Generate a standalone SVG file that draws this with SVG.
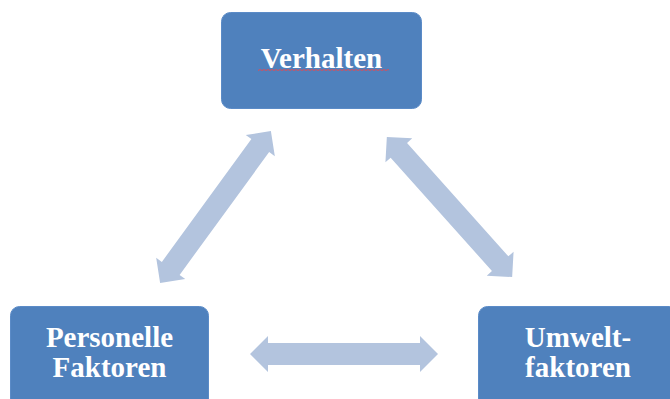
<svg xmlns="http://www.w3.org/2000/svg" width="670" height="399" viewBox="0 0 670 399">
<style>
.box{fill:#4f81bd;stroke:#5b8bc7;stroke-width:1}
.lbl{font-family:"Liberation Serif","Times New Roman",serif;font-weight:bold;font-size:29px;fill:#ffffff;text-anchor:middle}
.arr{fill:#b3c4de}
</style>
<defs>
<path id="dbl" d="M-94,0 L-76,-18 L-76,-11 L76,-11 L76,-18 L94,0 L76,18 L76,11 L-76,11 L-76,18 Z"/>
</defs>
<rect width="670" height="399" fill="#ffffff"/>
<g id="connectors" class="arr">
<use href="#dbl" transform="translate(215.5,207) rotate(-53.9)"/>
<use href="#dbl" transform="translate(449.5,207) rotate(48.2)"/>
<use href="#dbl" transform="translate(344,354)"/>
</g>
<g id="verhalten">
<rect class="box" x="221.5" y="12.5" width="200" height="96" rx="9"/>
<text class="lbl" x="321.5" y="68">Verhalten</text>
<path d="M258,70.5 l2,-1 l2,1 l2,-1 l2,1 l2,-1 l2,1 l2,-1 l2,1 l2,-1 l2,1 l2,-1 l2,1 l2,-1 l2,1 l2,-1 l2,1 l2,-1 l2,1 l2,-1 l2,1 l2,-1 l2,1 l2,-1 l2,1 l2,-1 l2,1 l2,-1 l2,1 l2,-1 l2,1 l2,-1 l2,1 l2,-1 l2,1 l2,-1 l2,1 l2,-1 l2,1 l2,-1 l2,1 l2,-1 l2,1 l2,-1 l2,1 l2,-1 l2,1 l2,-1 l2,1 l2,-1 l2,1 l2,-1 l2,1 l2,-1 l2,1 l2,-1 l2,1 l2,-1 l2,1 l2,-1 l2,1 l2,-1 l2,1 l2,-1 l2,1 l2,-1 l1,0.5" fill="none" stroke="#d4505e" stroke-width="1"/>
</g>
<g id="personelle">
<rect class="box" x="10.5" y="306.5" width="198" height="110" rx="9"/>
<text class="lbl" x="109.5" y="347">Personelle</text>
<text class="lbl" x="109.5" y="377">Faktoren</text>
</g>
<g id="umwelt">
<rect class="box" x="478.5" y="306.5" width="200" height="110" rx="9"/>
<text class="lbl" x="578" y="347">Umwelt-</text>
<text class="lbl" x="578" y="377">faktoren</text>
</g>
</svg>
